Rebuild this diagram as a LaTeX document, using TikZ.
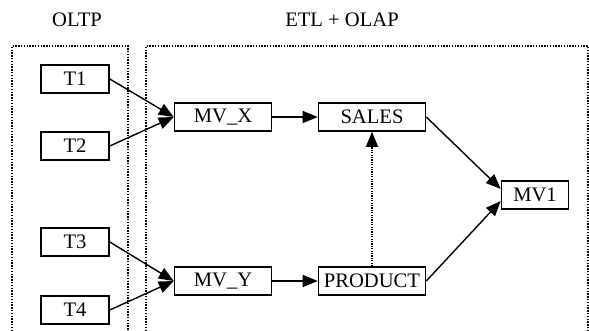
\documentclass[tikz,border=0pt]{standalone}
\usepackage{fontspec}
\setmainfont{Liberation Serif}
\usetikzlibrary{arrows.meta}

\begin{document}
\begin{tikzpicture}[x=0.5pt,y=-0.5pt,
    font=\fontsize{10.3}{12}\selectfont,
    tbl/.style={draw=black,line width=0.8pt,inner sep=0pt,minimum height=14pt},
    zone/.style={line width=0.7pt,dash pattern=on 0.7pt off 0.7pt},
    flow/.style={line width=0.7pt,-{Triangle[length=7.5pt,width=6pt]}}]
      \useasboundingbox (0,0) rectangle (589,331);
      % zones
      \draw [zone] (12,331) -- (12,46) -- (128,46) -- (128,331);
      \draw [zone] (146,331) -- (146,46) -- (588,46) -- (588,331);
      \node (oltp) at (77,20) {OLTP};
      \node (olap) at (342,20) {ETL + OLAP};
      % tables
      \node [tbl,minimum width=34pt] (t1) at (75,79) {T1};
      \node [tbl,minimum width=34pt] (t2) at (75,146) {T2};
      \node [tbl,minimum width=34pt] (t3) at (75,242) {T3};
      \node [tbl,minimum width=34pt] (t4) at (75,310) {T4};
      \node [tbl,minimum width=48.5pt] (mvx) at (223,117) {MV\_X};
      \node [tbl,minimum width=48.5pt] (mvy) at (223,281) {MV\_Y};
      \node [tbl,minimum width=53.5pt] (sales) at (372,117) {SALES};
      \node [tbl,minimum width=53.5pt] (product) at (372,281) {PRODUCT};
      \node [tbl,minimum width=33.5pt] (mv1) at (535,195) {MV1};
      % flows
      \draw [flow] (t1.east) -- (mvx.west);
      \draw [flow] (t2.east) -- (mvx.west);
      \draw [flow] (t3.east) -- (mvy.west);
      \draw [flow] (t4.east) -- (mvy.west);
      \draw [flow] (mvx) -- (sales);
      \draw [flow] (mvy) -- (product);
      \draw [flow,line width=0.6pt,dash pattern=on 0.6pt off 0.6pt] (product) -- (sales);
      \draw [flow] (sales.east) -- (mv1.170);
      \draw [flow] (product.east) -- (mv1.190);
\end{tikzpicture}
\end{document}
